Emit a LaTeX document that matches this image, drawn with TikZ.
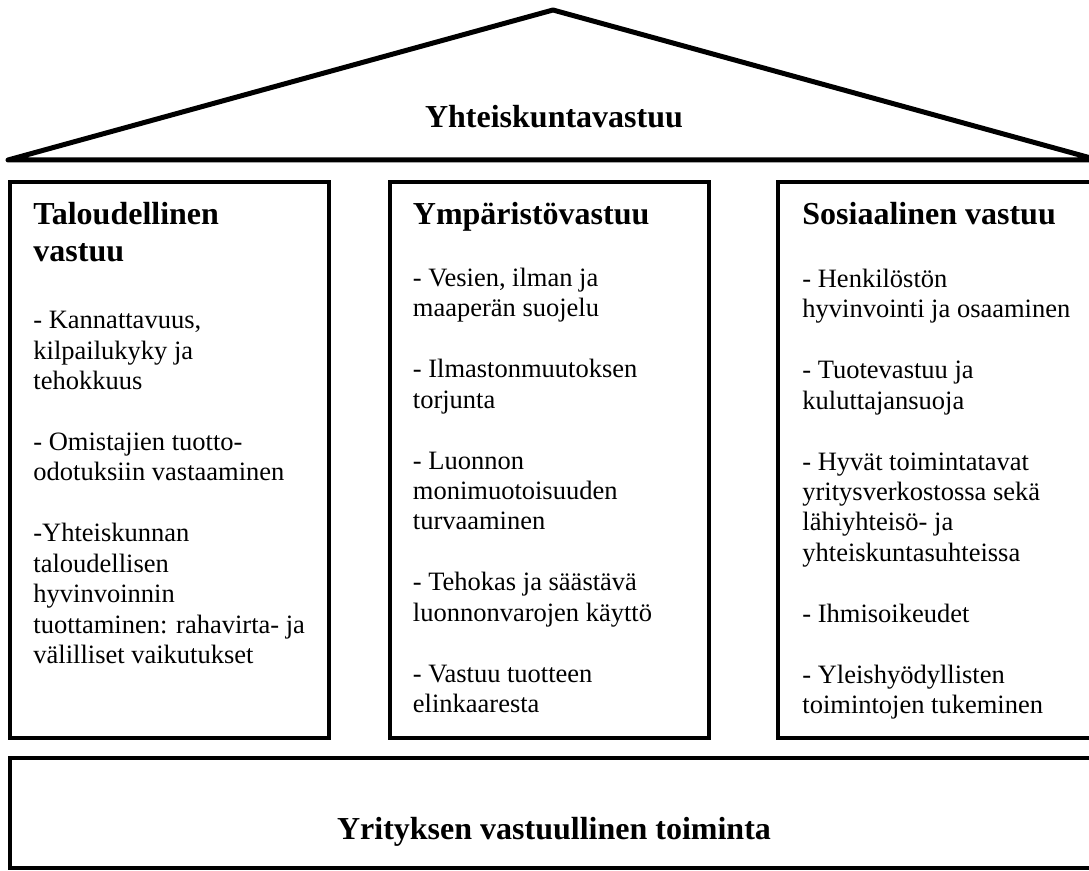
\documentclass[tikz,border=0pt]{standalone}
\usepackage{fontspec}
\setmainfont{Liberation Serif}
\usetikzlibrary{calc}
\tikzset{
  pillar/.style   = {draw, line width=2pt, rectangle, outer sep=0pt, inner sep=0pt,
                     minimum width=159.5pt, minimum height=278pt},
  basebox/.style  = {draw, line width=2pt, rectangle, outer sep=0pt, inner sep=0pt,
                     minimum width=545pt, minimum height=55pt},
  roofline/.style = {line width=2.5pt, line join=round},
  heading/.style  = {anchor=base west, inner sep=0pt, align=left,
                     font=\fontsize{16}{18.5}\selectfont\bfseries},
  body/.style     = {anchor=base west, inner sep=0pt, align=left,
                     font=\fontsize{13.25}{15.25}\selectfont},
  title/.style    = {anchor=base, inner sep=0pt,
                     font=\fontsize{16}{18.5}\selectfont\bfseries},
}
\begin{document}
\begin{tikzpicture}[x=0.5pt, y=-0.5pt]
  \useasboundingbox (0,0) rectangle (1089,871);
  \clip (0,0) rectangle (1089,871);
  % roof
  \coordinate (eaveL) at (8,160);
  \coordinate (apex) at (553,10);
  \coordinate (eaveR) at (1098,160);
  \draw[roofline] (eaveL) -- (apex) -- (eaveR) -- cycle;
  \node[title] (roofname) at (554,128) {Yhteiskuntavastuu};
  % pillars (text nodes sit on their last baseline)
  \node[pillar] (talous) at (169.5,460) {};
  \node[pillar] (ymparisto) at (549,460) {};
  \node[pillar] (sosiaalinen) at (937.5,460) {};
  \node[heading] (talous-h) at ($(talous.north west)+(23,80)$) {Taloudellinen\\vastuu};
  \node[body] (talous-b) at ($(talous.north west)+(23,482)$)
    {- Kannattavuus,\\kilpailukyky ja\\tehokkuus\\[15.25pt]- Omistajien tuotto-\\odotuksiin vastaaminen\\[15.25pt]-Yhteiskunnan\\taloudellisen\\hyvinvoinnin\\tuottaminen: rahavirta- ja\\välilliset vaikutukset};
  \node[heading] (ymparisto-h) at ($(ymparisto.north west)+(23,43)$) {Ympäristövastuu};
  \node[body] (ymparisto-b) at ($(ymparisto.north west)+(23,531)$)
    {- Vesien, ilman ja\\maaperän suojelu\\[15.25pt]- Ilmastonmuutoksen\\torjunta\\[15.25pt]- Luonnon\\monimuotoisuuden\\turvaaminen\\[15.25pt]- Tehokas ja säästävä\\luonnonvarojen käyttö\\[15.25pt]- Vastuu tuotteen\\elinkaaresta};
  \node[heading] (sosiaalinen-h) at ($(sosiaalinen.north west)+(24,43)$) {Sosiaalinen vastuu};
  \node[body] (sosiaalinen-b) at ($(sosiaalinen.north west)+(24,532)$)
    {- Henkilöstön\\hyvinvointi ja osaaminen\\[15.25pt]- Tuotevastuu ja\\kuluttajansuoja\\[15.25pt]- Hyvät toimintatavat\\yritysverkostossa sekä\\lähiyhteisö- ja\\yhteiskuntasuhteissa\\[15.25pt]- Ihmisoikeudet\\[15.25pt]- Yleishyödyllisten\\toimintojen tukeminen};
  % foundation
  \node[basebox] (perusta) at (555,813) {};
  \node[title] (perustaname) at ($(perusta.center)+(-1,27)$) {Yrityksen vastuullinen toiminta};
\end{tikzpicture}
\end{document}
